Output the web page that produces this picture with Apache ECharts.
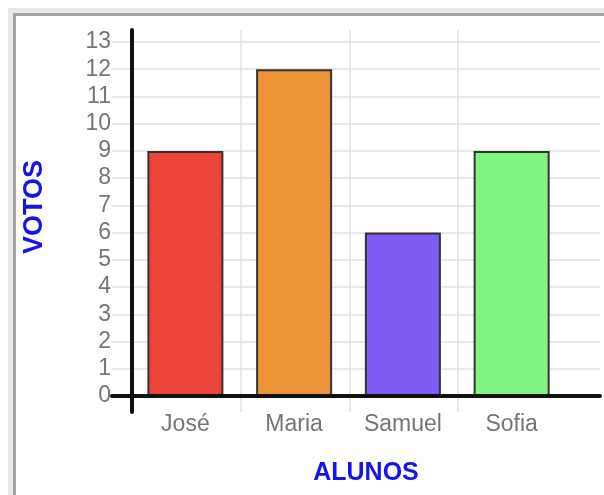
<!DOCTYPE html>
<html>
<head>
<meta charset="utf-8">
<script src="https://cdn.jsdelivr.net/npm/echarts@6/dist/echarts.min.js"></script>
<style>
  html, body { margin: 0; padding: 0; background: #ffffff; overflow: hidden; }
  #frameOuter { position: absolute; left: 8px; top: 8px; width: 700px; height: 700px; background: #e8e8e8; }
  #frameInner { position: absolute; left: 13px; top: 13px; width: 700px; height: 700px; background: #ffffff;
                border-left: 3px solid #a3a3a3; border-top: 3px solid #a3a3a3; }
  #chart { position: absolute; left: 0; top: 0; width: 604px; height: 495px; }
</style>
</head>
<body>
<div id="frameOuter"></div>
<div id="frameInner"></div>
<div id="chart"></div>
<script>
// ---- data ----
const categories = ['José', 'Maria', 'Samuel', 'Sofia'];
const votes = [9, 12, 6, 9];
const yAxisTitle = 'VOTOS';
const xAxisTitle = 'ALUNOS';
const yMin = 0;
const yMax = 13;

// ---- styles ----
const palette = ['#ec4339', '#ec9338', '#7f5af5', '#7ff47f'];
const FONT = '"Liberation Sans", Arial, sans-serif';
const labelGray = '#757575';
const gridGray = '#e0e0e0';
const titleBlue = '#1414f0';

const chart = echarts.init(document.getElementById('chart'), null, { renderer: 'canvas' });

const option = {
  animation: false,
  backgroundColor: 'transparent',
  grid: [
    // 0: bars
    { left: 131, right: 38, top: 42, bottom: 99 },
    // 1: horizontal grid lines, y labels, x axis line
    { left: 112, right: 4, top: 42, bottom: 99 },
    // 2: vertical grid lines, y axis line
    { left: 132, right: 146, top: 30, bottom: 83 }
  ],
  xAxis: [
    {
      gridIndex: 0, type: 'category', data: categories,
      axisLine: { show: false }, axisTick: { show: false }, splitLine: { show: false },
      axisLabel: { color: labelGray, fontSize: 23, fontFamily: FONT, margin: 17 }
    },
    {
      gridIndex: 1, type: 'value', min: 0, max: 1, z: 5,
      axisLine: { show: true, lineStyle: { color: '#111111', width: 4 } },
      axisTick: { show: false }, axisLabel: { show: false }, splitLine: { show: false }
    },
    {
      gridIndex: 2, type: 'value', min: 0, max: categories.length - 1, interval: 1,
      axisLine: { show: false }, axisTick: { show: false }, axisLabel: { show: false },
      splitLine: { show: true, lineStyle: { color: gridGray, width: 1.5 } }
    }
  ],
  yAxis: [
    {
      gridIndex: 0, type: 'value', min: yMin, max: yMax, interval: 1,
      show: false
    },
    {
      gridIndex: 1, type: 'value', min: yMin, max: yMax, interval: 1,
      axisLine: { show: false }, axisTick: { show: false },
      axisLabel: { color: labelGray, fontSize: 23, fontFamily: FONT, margin: 1 },
      splitLine: { show: true, lineStyle: { color: gridGray, width: 1.5 } }
    },
    {
      gridIndex: 2, type: 'value', min: 0, max: 1, z: 5,
      axisLine: { show: true, lineStyle: { color: '#111111', width: 4 } },
      axisTick: { show: false }, axisLabel: { show: false }, splitLine: { show: false }
    }
  ],
  series: [
    {
      type: 'bar',
      xAxisIndex: 0, yAxisIndex: 0,
      barWidth: 76,
      data: votes.map((v, i) => ({
        value: v,
        itemStyle: { color: palette[i % palette.length] }
      })),
      itemStyle: { borderColor: '#333333', borderWidth: 2 }
    }
  ],
  graphic: [
    {
      type: 'text', x: 366, y: 473, z: 10,
      style: { text: xAxisTitle, align: 'center', verticalAlign: 'middle',
               font: 'bold 25px ' + FONT, fill: titleBlue }
    },
    {
      type: 'text', x: 35, y: 207, rotation: Math.PI / 2, z: 10,
      style: { text: yAxisTitle, align: 'center', verticalAlign: 'middle',
               font: 'bold 27px ' + FONT, fill: titleBlue }
    }
  ]
};

chart.setOption(option);
</script>
</body>
</html>
